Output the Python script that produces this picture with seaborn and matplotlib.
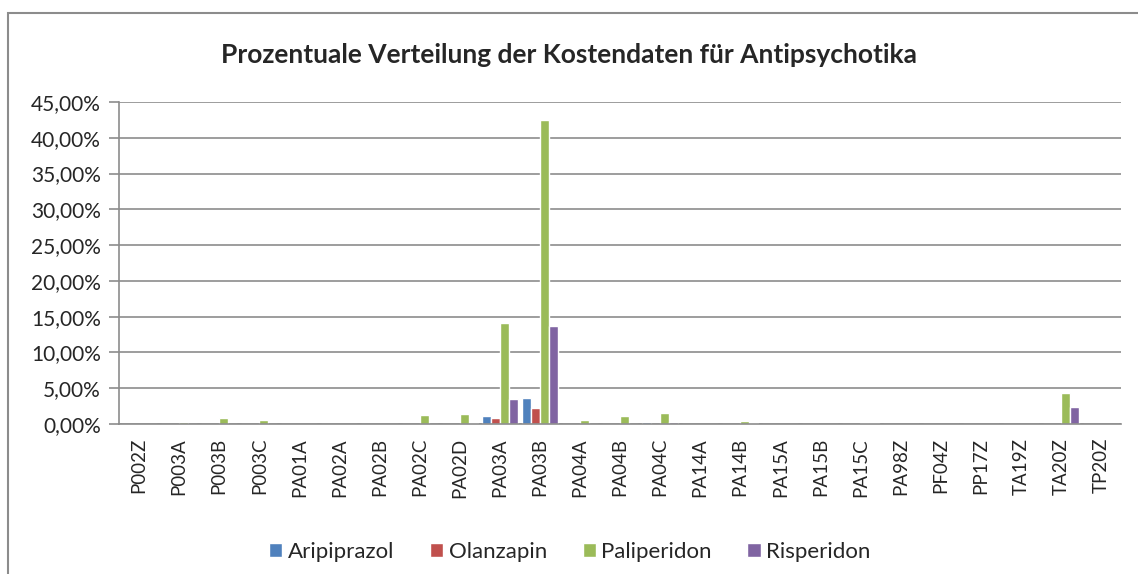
import matplotlib
matplotlib.use("Agg")
import matplotlib.pyplot as plt
from matplotlib.patches import Rectangle
from matplotlib.ticker import FuncFormatter, MultipleLocator
import pandas as pd
import seaborn as sns

# Daten (in Prozent)
categories = ["P002Z", "P003A", "P003B", "P003C", "PA01A", "PA02A", "PA02B", "PA02C",
              "PA02D", "PA03A", "PA03B", "PA04A", "PA04B", "PA04C", "PA14A", "PA14B",
              "PA15A", "PA15B", "PA15C", "PA98Z", "PF04Z", "PP17Z", "TA19Z", "TA20Z", "TP20Z"]
series = ["Aripiprazol", "Olanzapin", "Paliperidon", "Risperidon"]

aripiprazol = [0.0, 0.0, 0.0, 0.0, 0.0, 0.0, 0.0, 0.0, 0.0, 1.05, 3.6, 0.0,
               0.02, 0.3, 0.0, 0.0, 0.0, 0.0, 0.0, 0.0, 0.0, 0.0, 0.02, 0.05, 0.0]
olanzapin = [0.0, 0.0, 0.0, 0.0, 0.0, 0.0, 0.0, 0.0, 0.0, 0.8, 2.3, 0.0,
             0.05, 0.0, 0.0, 0.0, 0.0, 0.0, 0.0, 0.0, 0.0, 0.0, 0.0, 0.0, 0.0]
paliperidon = [0.0, 0.28, 0.9, 0.55, 0.0, 0.0, 0.05, 1.25, 1.35, 14.05, 42.45, 0.55,
               1.1, 1.6, 0.0, 0.4, 0.0, 0.0, 0.15, 0.0, 0.05, 0.0, 0.05, 4.4, 0.0]
risperidon = [0.0, 0.0, 0.0, 0.0, 0.0, 0.0, 0.0, 0.0, 0.1, 3.5, 13.7, 0.0,
              0.05, 0.25, 0.0, 0.1, 0.0, 0.0, 0.15, 0.0, 0.0, 0.0, 0.0, 2.4, 0.0]

colors = ["#4F81BD", "#C0504D", "#9BBB59", "#8064A2"]

n = len(categories)
df = pd.DataFrame({
    "code": categories * 4,
    "Medikament": [s for s in series for _ in range(n)],
    "anteil": aripiprazol + olanzapin + paliperidon + risperidon,
})

sns.set_style("white")
plt.rcParams["font.family"] = ["Lato", "DejaVu Sans"]

fig = plt.figure(figsize=(11.38, 5.74), dpi=100)
ax = fig.add_axes([119 / 1138, 1 - 424 / 574, 1002 / 1138, 322 / 574])

sns.barplot(data=df, x="code", y="anteil", hue="Medikament", palette=colors,
            width=0.9, saturation=1, ax=ax, legend=True)

ax.set_ylim(0, 45)
ax.set_xlim(-0.5, n - 0.5)
ax.yaxis.set_major_locator(MultipleLocator(5))
ax.yaxis.set_major_formatter(FuncFormatter(lambda v, p: f"{v:.2f}%".replace(".", ",")))
ax.grid(axis="y", color="#8c8c8c", linewidth=1.2)
ax.set_axisbelow(True)
ax.set_xlabel("")
ax.set_ylabel("")

for side in ["top", "right"]:
    ax.spines[side].set_visible(False)
for side in ["left", "bottom"]:
    ax.spines[side].set_color("#8c8c8c")
    ax.spines[side].set_linewidth(1.2)

# Striche zwischen den Kategorien wie in Excel
ax.set_xticks(range(n))
ax.set_xticklabels(categories, rotation=90, fontsize=13.5)
ax.set_xticks([i - 0.5 for i in range(n + 1)], minor=True)
ax.tick_params(axis="x", which="major", length=0, pad=10)
ax.tick_params(axis="x", which="minor", length=7, width=1.2, color="#8c8c8c", direction="out")
ax.tick_params(axis="y", labelsize=15, length=7, width=1.2, color="#8c8c8c", direction="out",
               left=True, pad=6)

ax.legend(loc="lower center", bbox_to_anchor=(0.45, -0.49), ncol=4, frameon=False,
          fontsize=16, handlelength=0.6, handleheight=0.6, handletextpad=0.25,
          columnspacing=1.6)

fig.text(0.5, 1 - 55 / 574, "Prozentuale Verteilung der Kostendaten für Antipsychotika",
         ha="center", va="center", fontsize=19, fontweight="bold")

fig.patches.append(Rectangle((8 / 1138, -0.01), 1.1, 1 - 13 / 574 + 0.01,
                             transform=fig.transFigure, fill=False,
                             edgecolor="#8c8c8c", linewidth=1.5))

fig.savefig("out.png", dpi=100)
